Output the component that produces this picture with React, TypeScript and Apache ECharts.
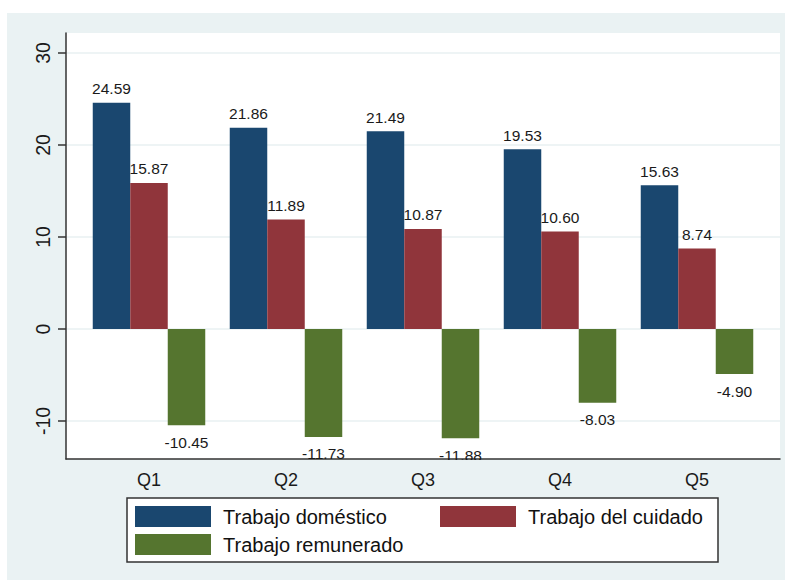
import React, { useEffect, useRef } from 'react';
import * as echarts from 'echarts';

const categories = ['Q1', 'Q2', 'Q3', 'Q4', 'Q5'];
const domestico = [24.59, 21.86, 21.49, 19.53, 15.63];
const cuidado = [15.87, 11.89, 10.87, 10.6, 8.74];
const remunerado = [-10.45, -11.73, -11.88, -8.03, -4.9];
const seriesNames = ['Trabajo doméstico', 'Trabajo del cuidado', 'Trabajo remunerado'];
const seriesColors = ['#1a476f', '#90353b', '#55752f'];
const yTicks = [-10, 0, 10, 20, 30];
const yMin = -14.13;
const yMax = 32.17;

const FONT = '"Liberation Sans", Arial, sans-serif';
const BG = '#eaf2f3';

export default function App() {
  const ref = useRef<HTMLDivElement>(null);
  useEffect(() => {
    if (!ref.current) return;
    const chart = echarts.init(ref.current, undefined, { renderer: 'svg' });
    const mkSeries = (name: string, data: number[], color: string) => ({
      type: 'bar',
      name,
      xAxisIndex: 1,
      yAxisIndex: 1,
      barWidth: 37.5,
      barGap: '0%',
      itemStyle: { color },
      data: data.map((v) => ({
        value: v,
        label: {
          position: v < 0 ? 'bottom' : 'top',
          distance: v < 0 ? 9 : 6,
        },
      })),
      label: {
        show: true,
        fontFamily: FONT,
        fontSize: 15.5,
        color: '#1a1a1a',
        formatter: (p: any) => Number(p.value).toFixed(2),
      },
    });
    const legendBase = {
      orient: 'horizontal',
      padding: 0,
      itemWidth: 76,
      itemHeight: 21,
      icon: 'rect',
      selectedMode: false,
      textStyle: { fontFamily: FONT, fontSize: 20, color: '#111', padding: [0, 0, 0, 7] },
    };
    chart.setOption({
      animation: false,
      backgroundColor: 'transparent',
      textStyle: { fontFamily: FONT },
      grid: [
        { left: 66, right: 7, top: 33, bottom: 123, show: true, backgroundColor: '#ffffff', borderWidth: 0 },
        { left: 80.5, right: 21.5, top: 33, bottom: 123 },
      ],
      xAxis: [
        {
          gridIndex: 0,
          type: 'value',
          min: 0,
          max: 1,
          axisLine: { show: true, onZero: false, lineStyle: { color: '#333', width: 1.5 } },
          axisTick: { show: false },
          axisLabel: { show: false },
          splitLine: { show: false },
        },
        {
          gridIndex: 1,
          type: 'category',
          data: categories,
          axisLine: { show: false, onZero: false },
          axisTick: { show: false },
          axisLabel: { fontFamily: FONT, fontSize: 18, color: '#1a1a1a', margin: 12 },
        },
      ],
      yAxis: [
        {
          gridIndex: 0,
          type: 'value',
          min: yMin,
          max: yMax,
          axisLine: { show: true, lineStyle: { color: '#333', width: 1.5 } },
          axisTick: { show: true, length: 8, customValues: yTicks, lineStyle: { color: '#333', width: 1.5 } },
          axisLabel: {
            customValues: yTicks,
            rotate: 90,
            margin: 13,
            fontFamily: FONT,
            fontSize: 19.5,
            color: '#1a1a1a',
          },
          splitLine: { show: true, lineStyle: { color: '#e8f0f2', width: 1.5 } },
        },
        {
          gridIndex: 1,
          type: 'value',
          min: yMin,
          max: yMax,
          show: false,
          splitLine: { show: false },
        },
      ],
      legend: [
        { ...legendBase, left: 135, top: 506, data: [seriesNames[0]] },
        { ...legendBase, left: 440, top: 506, data: [seriesNames[1]] },
        { ...legendBase, left: 135, top: 534, data: [seriesNames[2]] },
      ],
      graphic: [
        {
          type: 'rect',
          z: 1,
          shape: { x: 127, y: 498, width: 591, height: 64 },
          style: { fill: '#ffffff', stroke: '#333', lineWidth: 1.5 },
        },
        {
          type: 'rect',
          z: 50,
          silent: true,
          shape: { x: 66, y: 460, width: 714, height: 9 },
          style: { fill: BG },
        },
      ],
      series: [
        mkSeries(seriesNames[0], domestico, seriesColors[0]),
        mkSeries(seriesNames[1], cuidado, seriesColors[1]),
        mkSeries(seriesNames[2], remunerado, seriesColors[2]),
      ],
    });
    return () => chart.dispose();
  }, []);
  return (
    <div style={{ position: 'absolute', left: 0, top: 0, width: 787, height: 582, background: '#ffffff' }}>
      <div style={{ position: 'absolute', left: 7, top: 13, width: 778, height: 567, background: BG }} />
      <div ref={ref} style={{ position: 'absolute', left: 0, top: 0, width: 787, height: 582 }} />
    </div>
  );
}
